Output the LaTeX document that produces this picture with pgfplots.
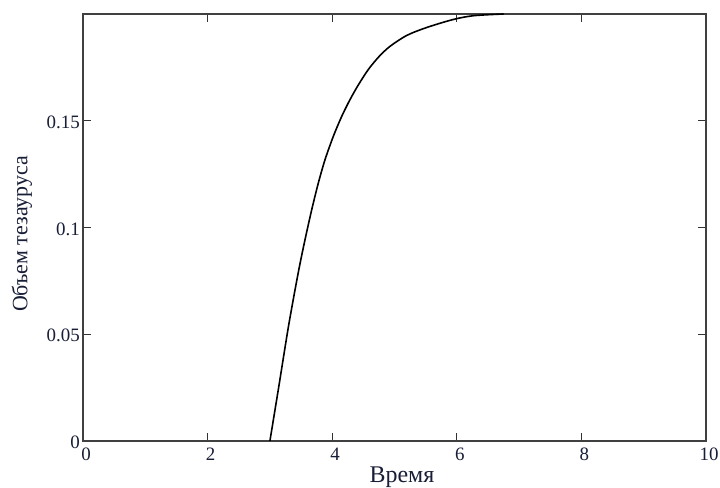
\documentclass[border=0pt]{standalone}
\usepackage{pgfplots}
\pgfplotsset{compat=1.18}
\usepackage{fontspec}
\setmainfont{Liberation Serif}
\definecolor{txt}{RGB}{25,30,55}
\begin{document}
\begin{tikzpicture}[x=1bp,y=1bp]
\begin{axis}[
  at={(83bp,47bp)}, anchor=south west,
  scale only axis, width=623bp, height=427bp,
  xmin=0, xmax=10, ymin=0, ymax=0.2,
  xtick={0,2,4,6,8,10},
  ytick={0,0.05,0.1,0.15},
  yticklabels={0,0.05,0.1,0.15},
  xticklabels={0,2,4,6,8,10},
  tick pos=both, tick align=inside,
  major tick length=8bp,
  axis line style={line width=1.3bp, black!75},
  every tick/.style={line width=1.3bp, black!80},
  /pgf/number format/assume math mode=true,
  xticklabel style={anchor=north, inner sep=0pt, yshift=-7bp, xshift=3bp, text=txt, font=\fontsize{19}{19}\selectfont},
  yticklabel style={anchor=east, inner sep=0pt, xshift=-3bp, yshift=-1.5bp, text=txt, font=\fontsize{19}{19}\selectfont},
  xlabel={Время},
  ylabel={Объем тезауруса},
  xlabel style={at={(axis description cs:0.512,-0.0965)}, anchor=base, inner sep=0pt, font=\fontsize{24}{24}\selectfont, text=txt},
  ylabel style={at={(axis description cs:-0.098,0.485)}, anchor=center, inner sep=0pt, font=\fontsize{22}{22}\selectfont, text=txt},
  clip=false,
]
\addplot[line width=1.6bp, black, smooth] coordinates {
(3.00,0)
(3.14,0.025)
(3.30,0.054)
(3.456,0.079)
(3.563,0.0942)
(3.671,0.1083)
(3.777,0.1208)
(3.884,0.1317)
(4.018,0.1427)
(4.152,0.1520)
(4.286,0.1599)
(4.42,0.1668)
(4.58,0.1740)
(4.75,0.1800)
(4.93,0.1849)
(5.20,0.1900)
(5.52,0.1937)
(5.94,0.1974)
(6.27,0.1992)
(6.75,0.2)
};
\end{axis}
\pgfresetboundingbox
\path[use as bounding box] (0,0) rectangle (720,488);
\end{tikzpicture}
\end{document}
